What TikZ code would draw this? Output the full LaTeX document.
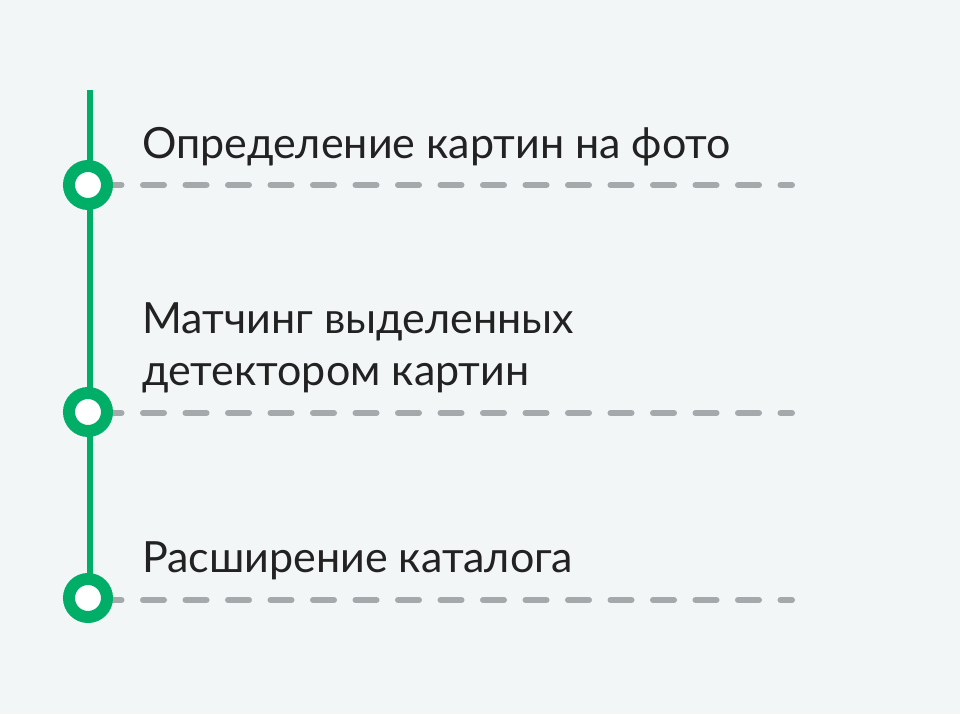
\documentclass[tikz,border=0pt]{standalone}
\usepackage{fontspec}
\setmainfont{Lato}
\definecolor{bgpanel}{HTML}{F3F6F7}
\definecolor{stepgreen}{HTML}{00AE68}
\definecolor{dashgray}{HTML}{A6A9AB}
\definecolor{inkdark}{HTML}{222222}
\tikzset{
  stepring/.style={circle,draw=stepgreen,line width=12pt,fill=white,minimum size=38pt,inner sep=0pt},
  steptext/.style={anchor=base west,inner sep=0pt,text=inkdark,font=\fontsize{43}{52}\selectfont,align=left},
  guide/.style={dashgray,line width=6pt,line cap=round,dash pattern=on 21pt off 21.5pt}
}
\begin{document}
\begin{tikzpicture}[x=1pt,y=1pt]
	% background
	\fill[bgpanel] (0,0) rectangle (960,714);
	\useasboundingbox (0,0) rectangle (960,714);
	% define coordinates
	\coordinate (top) at (90,624);
	\coordinate (bot) at (90,116);
	\coordinate (e1) at (792,529);
	\coordinate (e2) at (792,301);
	\coordinate (e3) at (792,114);
	% axis
	\draw[stepgreen,line width=6pt] (top) -- (bot);
	% guides
	\draw[guide] (100.5,529) -- (e1);
	\draw[guide] (100.5,301) -- (e2);
	\draw[guide] (100.5,114) -- (e3);
	% rings
	\node[stepring] (s1) at (88,529) {};
	\node[stepring] (s2) at (88,302) {};
	\node[stepring] (s3) at (88,116) {};
	% labels
	\node[steptext] (t1) at (142,555) {Определение картин на фото};
	\node[steptext] (t2) at (142,328) {Матчинг выделенных\\детектором картин};
	\node[steptext] (t3) at (142,141) {Расширение каталога};
\end{tikzpicture}
\end{document}
